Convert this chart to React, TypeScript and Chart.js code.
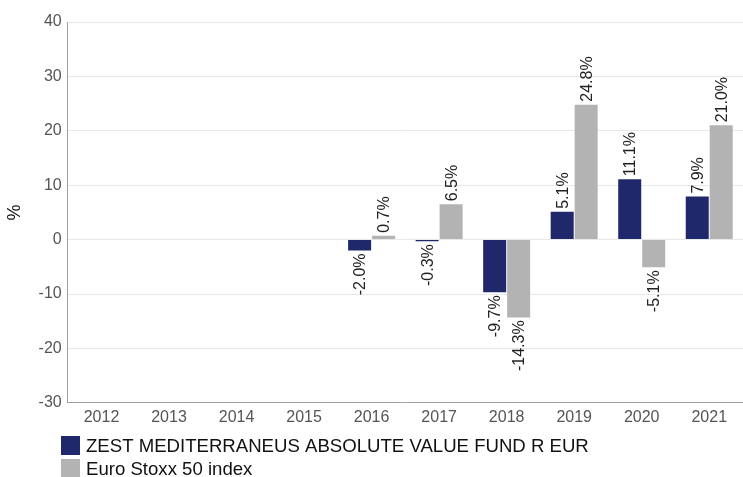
import React, { useEffect, useRef } from "react";
import { Chart, registerables } from "chart.js";

Chart.register(...registerables);

const years = ["2012", "2013", "2014", "2015", "2016", "2017", "2018", "2019", "2020", "2021"];
const fundValues: (number | null)[] = [null, null, null, null, -2.0, -0.3, -9.7, 5.1, 11.1, 7.9];
const indexValues: (number | null)[] = [null, null, null, null, 0.7, 6.5, -14.3, 24.8, -5.1, 21.0];
const seriesNames = ["ZEST MEDITERRANEUS ABSOLUTE VALUE FUND R EUR", "Euro Stoxx 50 index"];
const seriesColors = ["#1f286b", "#b3b3b3"];
const yTicks = [-30, -20, -10, 0, 10, 20, 30, 40];

const FONT = "'Liberation Sans', Arial, sans-serif";

const valueLabels = {
  id: "valueLabels",
  afterDatasetsDraw(chart: any) {
    const ctx = chart.ctx;
    ctx.save();
    ctx.font = `16px ${FONT}`;
    ctx.fillStyle = "#222";
    ctx.textBaseline = "middle";
    chart.data.datasets.forEach((ds: any, di: number) => {
      const meta = chart.getDatasetMeta(di);
      meta.data.forEach((bar: any, i: number) => {
        const v = ds.data[i];
        if (v === null || v === undefined) return;
        const text = v.toFixed(1) + "%";
        ctx.save();
        if (v >= 0) {
          ctx.translate(bar.x, Math.min(bar.y, bar.base) - 3);
          ctx.rotate(-Math.PI / 2);
          ctx.textAlign = "left";
        } else {
          ctx.translate(bar.x, Math.max(bar.y, bar.base) + 3);
          ctx.rotate(-Math.PI / 2);
          ctx.textAlign = "right";
        }
        ctx.fillText(text, 0, 1);
        ctx.restore();
      });
    });
    ctx.restore();
  },
};

const stackedLegend = {
  id: "stackedLegend",
  afterDraw(chart: any) {
    const ctx = chart.ctx;
    ctx.save();
    ctx.font = `18.6px ${FONT}`;
    ctx.textBaseline = "middle";
    ctx.textAlign = "left";
    const boxX = 61;
    const startY = 436;
    const rowH = 23;
    const box = 19;
    chart.data.datasets.forEach((ds: any, i: number) => {
      const y = startY + i * rowH;
      ctx.fillStyle = ds.backgroundColor;
      ctx.fillRect(boxX, y, box, box);
      ctx.fillStyle = "#111";
      ctx.fillText(ds.label, boxX + 25, y + box / 2 + 1);
    });
    ctx.restore();
  },
};

export default function App() {
  const ref = useRef<HTMLCanvasElement>(null);
  useEffect(() => {
    if (!ref.current) return;
    const chart = new Chart(ref.current, {
      type: "bar",
      data: {
        labels: years,
        datasets: [
          {
            label: seriesNames[0],
            data: fundValues,
            backgroundColor: seriesColors[0],
            barPercentage: 0.96,
            categoryPercentage: 0.71,
          },
          {
            label: seriesNames[1],
            data: indexValues,
            backgroundColor: seriesColors[1],
            barPercentage: 0.96,
            categoryPercentage: 0.71,
          },
        ],
      },
      options: {
        responsive: false,
        animation: false,
        layout: { padding: { top: 22, right: 0, left: 4, bottom: 45 } },
        plugins: {
          tooltip: { enabled: false },
          legend: { display: false },
        },
        scales: {
          x: {
            grid: { display: false, drawTicks: false },
            border: { display: true, color: "#a0a0a0", width: 1 },
            ticks: { font: { family: FONT, size: 16 }, color: "#555", padding: 5 },
          },
          y: {
            min: -30,
            max: 40,
            afterBuildTicks: (scale: any) => {
              scale.ticks = yTicks.map((v) => ({ value: v }));
            },
            grid: { color: "#e8e8e8", drawTicks: false },
            border: { display: true, color: "#a0a0a0", width: 1 },
            ticks: { font: { family: FONT, size: 16 }, color: "#555", padding: 6 },
            title: {
              display: true,
              text: "%",
              font: { family: FONT, size: 18 },
              color: "#111",
              padding: { top: 0, bottom: 7 },
            },
          },
        },
      },
      plugins: [valueLabels, stackedLegend],
    });
    return () => chart.destroy();
  }, []);
  return (
    <div style={{ position: "fixed", left: 0, top: 0, width: 743, height: 477, background: "#fff" }}>
      <canvas ref={ref} width={743} height={477} />
    </div>
  );
}
